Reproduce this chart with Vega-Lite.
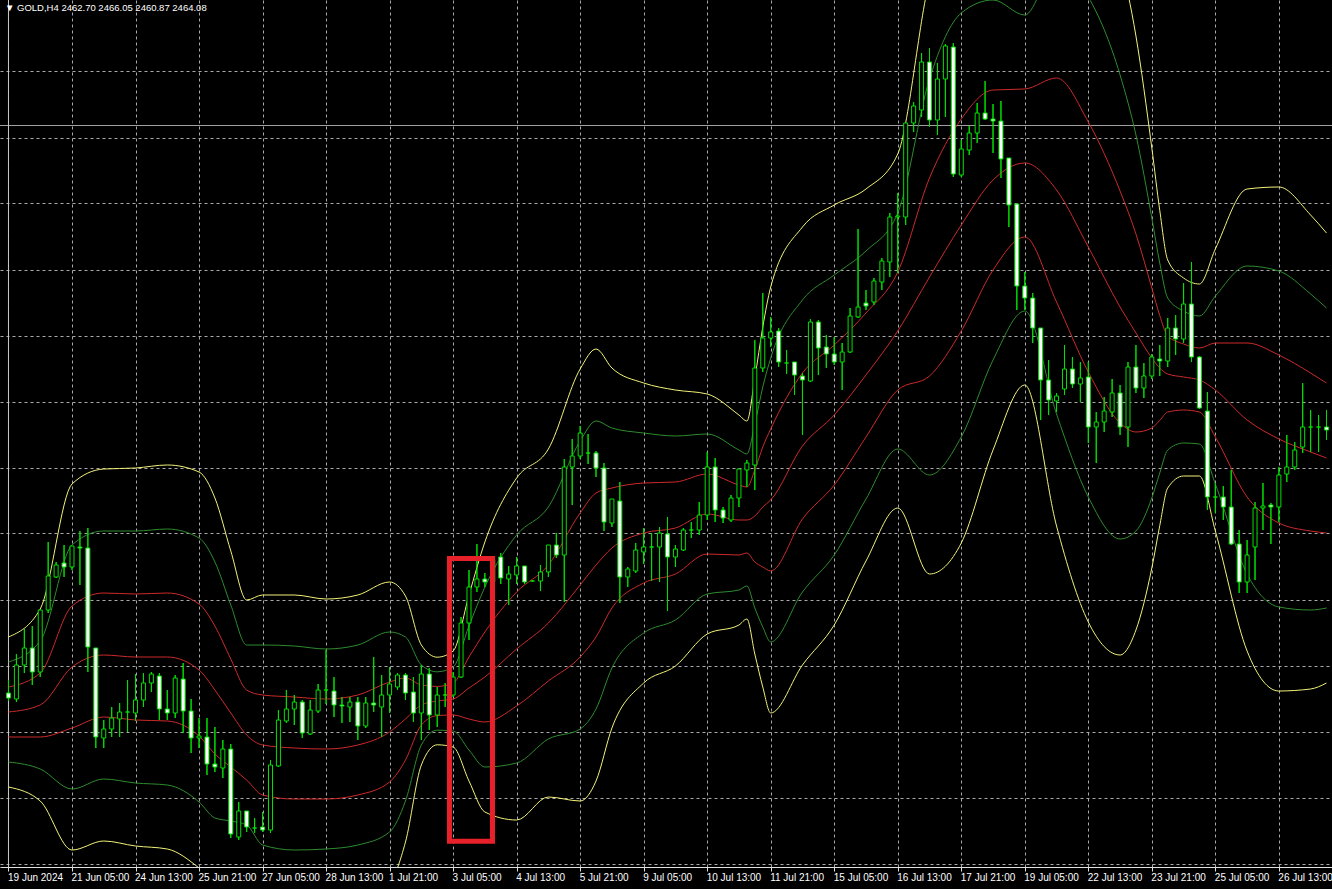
{
 "$schema": "https://vega.github.io/schema/vega-lite/v6.json",
 "width": 1332,
 "height": 867,
 "autosize": "none",
 "padding": {"left": 0, "top": 0, "right": 0, "bottom": 22},
 "background": "#000000",
 "config": {"view": {"stroke": null}},
 "title": {"text": "▼ GOLD,H4  2462.70 2466.05 2460.87 2464.08", "anchor": "start", "frame": "group", "orient": "top", "offset": -13, "dx": 5, "color": "#ffffff", "font": "Liberation Sans", "fontSize": 9.5, "fontWeight": "normal"},
 "datasets": {
  "candles": [
{"i":0,"o":2326.75,"h":2330,"l":2324.75,"c":2325.5},
{"i":1,"o":2325.25,"h":2336.5,"l":2324.5,"c":2333.75},
{"i":2,"o":2333.75,"h":2342.75,"l":2331.75,"c":2338},
{"i":3,"o":2338,"h":2343.5,"l":2328.75,"c":2332},
{"i":4,"o":2332,"h":2347.5,"l":2330.75,"c":2347.5},
{"i":5,"o":2347.5,"h":2364.5,"l":2346.75,"c":2356},
{"i":6,"o":2355.75,"h":2359.5,"l":2355.5,"c":2358.75},
{"i":7,"o":2359.25,"h":2363.75,"l":2355.75,"c":2358.25},
{"i":8,"o":2358.25,"h":2363.5,"l":2357.5,"c":2363.5},
{"i":9,"o":2363.25,"h":2367.25,"l":2353.75,"c":2363},
{"i":10,"o":2363,"h":2368,"l":2332,"c":2338.25},
{"i":11,"o":2338,"h":2338,"l":2313,"c":2315.75},
{"i":12,"o":2315.5,"h":2320,"l":2313,"c":2317.75},
{"i":13,"o":2317.75,"h":2323.25,"l":2315.75,"c":2320.5},
{"i":14,"o":2320.25,"h":2324.25,"l":2315.75,"c":2322},
{"i":15,"o":2322,"h":2330,"l":2317,"c":2322},
{"i":16,"o":2321.75,"h":2331.5,"l":2319.75,"c":2325},
{"i":17,"o":2325,"h":2331.75,"l":2323.25,"c":2329.25},
{"i":18,"o":2329.25,"h":2332,"l":2327,"c":2331.5},
{"i":19,"o":2331,"h":2331.75,"l":2320,"c":2322.75},
{"i":20,"o":2322.75,"h":2327.5,"l":2320,"c":2321.75},
{"i":21,"o":2321.75,"h":2331.25,"l":2320.5,"c":2330.5},
{"i":22,"o":2330.25,"h":2334.25,"l":2316.75,"c":2322.25},
{"i":23,"o":2322.25,"h":2325.25,"l":2311.75,"c":2315.5},
{"i":24,"o":2315.5,"h":2320.5,"l":2313,"c":2316},
{"i":25,"o":2315.75,"h":2320.5,"l":2306.25,"c":2309},
{"i":26,"o":2309,"h":2318.25,"l":2307,"c":2308.25},
{"i":27,"o":2308,"h":2315,"l":2305.5,"c":2312.75},
{"i":28,"o":2312.75,"h":2314,"l":2290.5,"c":2291.5},
{"i":29,"o":2290.75,"h":2299.5,"l":2290,"c":2297.25},
{"i":30,"o":2297.25,"h":2297.25,"l":2292,"c":2293.25},
{"i":31,"o":2293,"h":2295.5,"l":2291.75,"c":2293},
{"i":32,"o":2293.25,"h":2297,"l":2292,"c":2292.5},
{"i":33,"o":2292.5,"h":2310,"l":2291.75,"c":2308.75},
{"i":34,"o":2308.5,"h":2322.5,"l":2308.25,"c":2320},
{"i":35,"o":2319.75,"h":2327.5,"l":2319.25,"c":2322.75},
{"i":36,"o":2322.75,"h":2326.25,"l":2318.75,"c":2324.5},
{"i":37,"o":2324.5,"h":2325,"l":2315.5,"c":2316.75},
{"i":38,"o":2316.5,"h":2325,"l":2316.25,"c":2322.5},
{"i":39,"o":2322.25,"h":2329,"l":2321.75,"c":2327.5},
{"i":40,"o":2327.5,"h":2337.5,"l":2324,"c":2327.5},
{"i":41,"o":2327.25,"h":2330.75,"l":2320.75,"c":2323.75},
{"i":42,"o":2323.75,"h":2325.75,"l":2319.25,"c":2323.5},
{"i":43,"o":2323.25,"h":2325.75,"l":2319.5,"c":2324.5},
{"i":44,"o":2324.5,"h":2325.75,"l":2315,"c":2318.5},
{"i":45,"o":2318.5,"h":2325.75,"l":2318,"c":2324.25},
{"i":46,"o":2324.25,"h":2335.75,"l":2322,"c":2323.75},
{"i":47,"o":2323.25,"h":2331.25,"l":2315.75,"c":2326.25},
{"i":48,"o":2326.25,"h":2333.25,"l":2321.75,"c":2329},
{"i":49,"o":2328.25,"h":2331.75,"l":2327.5,"c":2331.25},
{"i":50,"o":2331.25,"h":2331.75,"l":2325,"c":2326.75},
{"i":51,"o":2327,"h":2330.75,"l":2319.5,"c":2321.75},
{"i":52,"o":2321.75,"h":2333.75,"l":2315,"c":2331.5},
{"i":53,"o":2331.5,"h":2333,"l":2317.5,"c":2321.25},
{"i":54,"o":2321.25,"h":2328.25,"l":2318.25,"c":2326.25},
{"i":55,"o":2326.25,"h":2329.25,"l":2323.25,"c":2326.25},
{"i":56,"o":2326.25,"h":2332,"l":2325.75,"c":2330.75},
{"i":57,"o":2330.75,"h":2345.75,"l":2330.5,"c":2344.25},
{"i":58,"o":2344.25,"h":2357.5,"l":2340,"c":2353.25},
{"i":59,"o":2353.25,"h":2364,"l":2352,"c":2355.25},
{"i":60,"o":2355.25,"h":2356.75,"l":2353.25,"c":2354.5},
{"i":61,"o":2354.5,"h":2361,"l":2353.75,"c":2360},
{"i":62,"o":2360.75,"h":2361.75,"l":2354,"c":2355.5},
{"i":63,"o":2355.25,"h":2358.5,"l":2348.75,"c":2356.5},
{"i":64,"o":2356.25,"h":2360.75,"l":2354,"c":2358.5},
{"i":65,"o":2358.5,"h":2358.5,"l":2354,"c":2354.5},
{"i":66,"o":2354.75,"h":2355,"l":2354.5,"c":2354.75},
{"i":67,"o":2354.75,"h":2358.75,"l":2352.25,"c":2357},
{"i":68,"o":2357,"h":2363.75,"l":2355.75,"c":2363.75},
{"i":69,"o":2363.75,"h":2366.75,"l":2360.5,"c":2361.25},
{"i":70,"o":2361.25,"h":2385.25,"l":2349.5,"c":2383.25},
{"i":71,"o":2383.25,"h":2390.25,"l":2373.75,"c":2386},
{"i":72,"o":2386,"h":2393.5,"l":2385.25,"c":2391.75},
{"i":73,"o":2386.75,"h":2391.5,"l":2384,"c":2386.75},
{"i":74,"o":2386.75,"h":2387.25,"l":2380.75,"c":2383},
{"i":75,"o":2383,"h":2384.25,"l":2367.25,"c":2369.5},
{"i":76,"o":2369.25,"h":2375.25,"l":2368.25,"c":2375.25},
{"i":77,"o":2374.75,"h":2379.5,"l":2349.25,"c":2355.75},
{"i":78,"o":2355.75,"h":2358.25,"l":2353.25,"c":2357.75},
{"i":79,"o":2357.25,"h":2364.25,"l":2356.75,"c":2362.5},
{"i":80,"o":2362,"h":2368,"l":2359,"c":2363.25},
{"i":81,"o":2363.25,"h":2366.75,"l":2354.75,"c":2363.25},
{"i":82,"o":2363.25,"h":2368.25,"l":2354.5,"c":2366.75},
{"i":83,"o":2366.5,"h":2370.75,"l":2347.25,"c":2360.75},
{"i":84,"o":2360.75,"h":2363.75,"l":2358.25,"c":2362.75},
{"i":85,"o":2362.5,"h":2368,"l":2362.25,"c":2367.5},
{"i":86,"o":2367.5,"h":2369.5,"l":2365.5,"c":2367.5},
{"i":87,"o":2367.5,"h":2374.5,"l":2366.25,"c":2371.25},
{"i":88,"o":2371.25,"h":2387,"l":2370,"c":2383.25},
{"i":89,"o":2383.25,"h":2385.5,"l":2369.5,"c":2372.5},
{"i":90,"o":2372.5,"h":2373.25,"l":2369.25,"c":2370.5},
{"i":91,"o":2370,"h":2376.25,"l":2369.5,"c":2375.5},
{"i":92,"o":2375.5,"h":2382.75,"l":2373.25,"c":2382.75},
{"i":93,"o":2382.5,"h":2385,"l":2378.25,"c":2384.25},
{"i":94,"o":2383.75,"h":2415,"l":2377.5,"c":2408},
{"i":95,"o":2408,"h":2426.75,"l":2407,"c":2415.5},
{"i":96,"o":2415.5,"h":2420.75,"l":2413.25,"c":2417},
{"i":97,"o":2417.25,"h":2418,"l":2408.25,"c":2409.5},
{"i":98,"o":2409.25,"h":2412.5,"l":2406.5,"c":2409.25},
{"i":99,"o":2409.5,"h":2409.5,"l":2401.25,"c":2406.25},
{"i":100,"o":2406,"h":2406.75,"l":2391.25,"c":2405},
{"i":101,"o":2404.75,"h":2420.25,"l":2404.5,"c":2419.5},
{"i":102,"o":2419.5,"h":2420,"l":2406.25,"c":2413},
{"i":103,"o":2413.25,"h":2416.25,"l":2408,"c":2411.5},
{"i":104,"o":2411.5,"h":2415.75,"l":2408.75,"c":2409.5},
{"i":105,"o":2409.5,"h":2414.25,"l":2402.5,"c":2412},
{"i":106,"o":2412,"h":2423,"l":2411.75,"c":2421},
{"i":107,"o":2420.75,"h":2442.75,"l":2420.5,"c":2423.25},
{"i":108,"o":2424.25,"h":2427.5,"l":2422.5,"c":2423.5},
{"i":109,"o":2424.5,"h":2430.5,"l":2423.75,"c":2429.75},
{"i":110,"o":2429.5,"h":2435.5,"l":2427.5,"c":2434.75},
{"i":111,"o":2434.5,"h":2446.75,"l":2430.75,"c":2445.75},
{"i":112,"o":2445.75,"h":2451.75,"l":2431.75,"c":2446},
{"i":113,"o":2445.75,"h":2469.25,"l":2443.75,"c":2469.25},
{"i":114,"o":2469.25,"h":2474.5,"l":2467,"c":2473.5},
{"i":115,"o":2472.5,"h":2486.75,"l":2470.75,"c":2484.5},
{"i":116,"o":2484.5,"h":2488,"l":2468.25,"c":2470},
{"i":117,"o":2470,"h":2484.25,"l":2466.25,"c":2480.25},
{"i":118,"o":2480.25,"h":2489,"l":2470.75,"c":2488.5},
{"i":119,"o":2488.25,"h":2489.25,"l":2455.75,"c":2456.5},
{"i":120,"o":2456.25,"h":2465,"l":2455.75,"c":2462.75},
{"i":121,"o":2462.5,"h":2468.5,"l":2461.25,"c":2466.75},
{"i":122,"o":2466.75,"h":2474.25,"l":2464.25,"c":2471.75},
{"i":123,"o":2471.75,"h":2479.75,"l":2470,"c":2470.25},
{"i":124,"o":2470.25,"h":2474,"l":2461.75,"c":2469.75},
{"i":125,"o":2469.75,"h":2474.75,"l":2455.5,"c":2460.25},
{"i":126,"o":2460.5,"h":2460.5,"l":2443.25,"c":2448.75},
{"i":127,"o":2449,"h":2449,"l":2422.5,"c":2428.5},
{"i":128,"o":2428.5,"h":2432,"l":2422.5,"c":2425.5},
{"i":129,"o":2425.5,"h":2426.75,"l":2414.25,"c":2418},
{"i":130,"o":2418,"h":2418,"l":2395,"c":2405},
{"i":131,"o":2405,"h":2410,"l":2396.25,"c":2400},
{"i":132,"o":2399.75,"h":2401.75,"l":2397,"c":2401},
{"i":133,"o":2402.75,"h":2413.75,"l":2401.25,"c":2407.75},
{"i":134,"o":2407.75,"h":2410.75,"l":2403,"c":2404},
{"i":135,"o":2404,"h":2409.5,"l":2399.5,"c":2405.5},
{"i":136,"o":2405.75,"h":2409.5,"l":2389.25,"c":2393.25},
{"i":137,"o":2393.25,"h":2397,"l":2384.25,"c":2394.5},
{"i":138,"o":2394.5,"h":2400.75,"l":2392,"c":2397.25},
{"i":139,"o":2397,"h":2405.25,"l":2395.75,"c":2401.75},
{"i":140,"o":2401.75,"h":2403.75,"l":2391.25,"c":2393.25},
{"i":141,"o":2393.25,"h":2409.5,"l":2388.25,"c":2408.25},
{"i":142,"o":2408.25,"h":2413.75,"l":2401.75,"c":2403},
{"i":143,"o":2403,"h":2409.25,"l":2400.5,"c":2406},
{"i":144,"o":2406,"h":2411.5,"l":2405.25,"c":2410.75},
{"i":145,"o":2410.25,"h":2413.75,"l":2406,"c":2409.75},
{"i":146,"o":2409.75,"h":2420.5,"l":2408.25,"c":2418},
{"i":147,"o":2418,"h":2421.25,"l":2411.25,"c":2415.25},
{"i":148,"o":2415.25,"h":2429.25,"l":2414.25,"c":2424},
{"i":149,"o":2424,"h":2434.5,"l":2409.5,"c":2410.75},
{"i":150,"o":2410.75,"h":2411,"l":2397.75,"c":2398},
{"i":151,"o":2397.25,"h":2402,"l":2372.5,"c":2375.75},
{"i":152,"o":2375.75,"h":2379.25,"l":2371.75,"c":2375.75},
{"i":153,"o":2375.75,"h":2378.5,"l":2370,"c":2373.25},
{"i":154,"o":2373.25,"h":2382.5,"l":2363.75,"c":2364},
{"i":155,"o":2364,"h":2367.5,"l":2351.75,"c":2354.5},
{"i":156,"o":2354.5,"h":2365,"l":2351.75,"c":2361.25},
{"i":157,"o":2363.25,"h":2374.5,"l":2355,"c":2373},
{"i":158,"o":2373,"h":2379.25,"l":2367.5,"c":2373.5},
{"i":159,"o":2373.75,"h":2374.25,"l":2364,"c":2373.25},
{"i":160,"o":2373.25,"h":2383.25,"l":2369.5,"c":2381.25},
{"i":161,"o":2381.5,"h":2391.25,"l":2379.5,"c":2383.25},
{"i":162,"o":2383.25,"h":2389.5,"l":2382.5,"c":2387.5},
{"i":163,"o":2388.25,"h":2404.25,"l":2386.75,"c":2393.25},
{"i":164,"o":2393.25,"h":2397.5,"l":2387,"c":2393.25},
{"i":165,"o":2393.25,"h":2396.25,"l":2387,"c":2393.25},
{"i":166,"o":2393.25,"h":2397.5,"l":2390,"c":2392.5}
  ],
  "bands": [
{"i":0,"yu":2340.75,"gu":2334.5,"ru":2328.25,"m":2322,"rl":2315.75,"gl":2309.5,"yl":2303.25},
{"i":4,"yu":2347.75,"gu":2339.75,"ru":2331.75,"m":2323.75,"rl":2315.75,"gl":2307.75,"yl":2299.75},
{"i":8,"yu":2379,"gu":2363.75,"ru":2348.5,"m":2333.25,"rl":2318,"gl":2302.75,"yl":2287.5},
{"i":12,"yu":2382.75,"gu":2367.25,"ru":2351.75,"m":2336.25,"rl":2320.75,"gl":2305.25,"yl":2289.75},
{"i":16,"yu":2383,"gu":2367.25,"ru":2351.5,"m":2335.75,"rl":2320,"gl":2304.25,"yl":2288.5},
{"i":20,"yu":2383.75,"gu":2367.75,"ru":2351.75,"m":2335.75,"rl":2319.75,"gl":2303.75,"yl":2287.75},
{"i":24,"yu":2382,"gu":2365.5,"ru":2349,"m":2332.5,"rl":2316,"gl":2299.5,"yl":2283},
{"i":26,"yu":2375.5,"gu":2359.5,"ru":2343.5,"m":2327.5,"rl":2311.5,"gl":2295.5,"yl":2279.5},
{"i":28,"yu":2362.25,"gu":2348.75,"ru":2335.25,"m":2321.75,"rl":2308.25,"gl":2294.75,"yl":2281.25},
{"i":30,"yu":2350,"gu":2338.75,"ru":2327.5,"m":2316.25,"rl":2305,"gl":2293.75,"yl":2282.5},
{"i":32,"yu":2351.25,"gu":2338.75,"ru":2326.25,"m":2313.75,"rl":2301.25,"gl":2288.75,"yl":2276.25},
{"i":36,"yu":2351.25,"gu":2338.5,"ru":2325.75,"m":2313,"rl":2300.25,"gl":2287.5,"yl":2274.75},
{"i":40,"yu":2350.25,"gu":2337.75,"ru":2325.25,"m":2312.75,"rl":2300.25,"gl":2287.75,"yl":2275.25},
{"i":44,"yu":2351.25,"gu":2338.75,"ru":2326.25,"m":2313.75,"rl":2301.25,"gl":2288.75,"yl":2276.25},
{"i":48,"yu":2354.5,"gu":2342,"ru":2329.5,"m":2317,"rl":2304.5,"gl":2292,"yl":2279.5},
{"i":50,"yu":2351,"gu":2340.75,"ru":2330.5,"m":2320.25,"rl":2310,"gl":2299.75,"yl":2289.5},
{"i":52,"yu":2338.75,"gu":2333.75,"ru":2328.75,"m":2323.75,"rl":2318.75,"gl":2313.75,"yl":2308.75},
{"i":54,"yu":2335.7,"gu":2332.05,"ru":2328.4,"m":2324.75,"rl":2321.1,"gl":2317.45,"yl":2313.8},
{"i":56,"yu":2337.25,"gu":2333.25,"ru":2329.25,"m":2325.25,"rl":2321.25,"gl":2317.25,"yl":2313.25},
{"i":58,"yu":2351.25,"gu":2343.5,"ru":2335.75,"m":2328,"rl":2320.25,"gl":2312.5,"yl":2304.75},
{"i":60,"yu":2364.5,"gu":2353.25,"ru":2342,"m":2330.75,"rl":2319.5,"gl":2308.25,"yl":2297},
{"i":64,"yu":2380.5,"gu":2366.25,"ru":2352,"m":2337.75,"rl":2323.5,"gl":2309.25,"yl":2295},
{"i":68,"yu":2387.75,"gu":2373.25,"ru":2358.75,"m":2344.25,"rl":2329.75,"gl":2315.25,"yl":2300.75},
{"i":72,"yu":2407.75,"gu":2389.75,"ru":2371.75,"m":2353.75,"rl":2335.75,"gl":2317.75,"yl":2299.75},
{"i":74,"yu":2412.75,"gu":2394.75,"ru":2376.75,"m":2358.75,"rl":2340.75,"gl":2322.75,"yl":2304.75},
{"i":76,"yu":2408,"gu":2393,"ru":2378,"m":2363,"rl":2348,"gl":2333,"yl":2318},
{"i":80,"yu":2404.25,"gu":2391.75,"ru":2379.25,"m":2366.75,"rl":2354.25,"gl":2341.75,"yl":2329.25},
{"i":84,"yu":2402.5,"gu":2391,"ru":2379.5,"m":2368,"rl":2356.5,"gl":2345,"yl":2333.5},
{"i":88,"yu":2401.5,"gu":2391.5,"ru":2381.5,"m":2371.5,"rl":2361.5,"gl":2351.5,"yl":2341.5},
{"i":92,"yu":2396.25,"gu":2387.5,"ru":2378.75,"m":2370,"rl":2361.25,"gl":2352.5,"yl":2343.75},
{"i":93,"yu":2394.75,"gu":2386.5,"ru":2378.25,"m":2370,"rl":2361.75,"gl":2353.5,"yl":2345.25},
{"i":94,"yu":2405.5,"gu":2394,"ru":2382.5,"m":2371,"rl":2359.5,"gl":2348,"yl":2336.5},
{"i":95,"yu":2418.25,"gu":2403.25,"ru":2388.25,"m":2373.25,"rl":2358.25,"gl":2343.25,"yl":2328.25},
{"i":96,"yu":2428.25,"gu":2410.5,"ru":2392.75,"m":2375,"rl":2357.25,"gl":2339.5,"yl":2321.75},
{"i":100,"yu":2443.25,"gu":2425,"ru":2406.75,"m":2388.5,"rl":2370.25,"gl":2352,"yl":2333.75},
{"i":104,"yu":2448.75,"gu":2431.25,"ru":2413.75,"m":2396.25,"rl":2378.75,"gl":2361.25,"yl":2343.75},
{"i":108,"yu":2452.75,"gu":2437.25,"ru":2421.75,"m":2406.25,"rl":2390.75,"gl":2375.25,"yl":2359.75},
{"i":112,"yu":2461.5,"gu":2446.75,"ru":2432,"m":2417.25,"rl":2402.5,"gl":2387.75,"yl":2373},
{"i":116,"yu":2505,"gu":2480.25,"ru":2455.5,"m":2430.75,"rl":2406,"gl":2381.25,"yl":2356.5},
{"i":120,"yu":2523.25,"gu":2496.75,"ru":2470.25,"m":2443.75,"rl":2417.25,"gl":2390.75,"yl":2364.25},
{"i":124,"yu":2522.5,"gu":2500,"ru":2477.5,"m":2455,"rl":2432.5,"gl":2410,"yl":2387.5},
{"i":128,"yu":2514.75,"gu":2496.25,"ru":2477.75,"m":2459.25,"rl":2440.75,"gl":2422.25,"yl":2403.75},
{"i":132,"yu":2536.5,"gu":2508.5,"ru":2480.5,"m":2452.5,"rl":2424.5,"gl":2396.5,"yl":2368.5},
{"i":136,"yu":2532,"gu":2500.75,"ru":2469.5,"m":2438.25,"rl":2407,"gl":2375.75,"yl":2344.5},
{"i":140,"yu":2510.25,"gu":2481.25,"ru":2452.25,"m":2423.25,"rl":2394.25,"gl":2365.25,"yl":2336.25},
{"i":142,"yu":2491,"gu":2466.25,"ru":2441.5,"m":2416.75,"rl":2392,"gl":2367.25,"yl":2342.5},
{"i":144,"yu":2463,"gu":2445.5,"ru":2428,"m":2410.5,"rl":2393,"gl":2375.5,"yl":2358},
{"i":145,"yu":2447.4,"gu":2434.25,"ru":2421.1,"m":2408,"rl":2394.9,"gl":2381.75,"yl":2368.6},
{"i":146,"yu":2435,"gu":2425.5,"ru":2416,"m":2406.5,"rl":2397,"gl":2387.5,"yl":2378},
{"i":148,"yu":2430.5,"gu":2422.25,"ru":2414,"m":2405.75,"rl":2397.5,"gl":2389.25,"yl":2381},
{"i":150,"yu":2429,"gu":2421,"ru":2413,"m":2405,"rl":2397,"gl":2389,"yl":2381},
{"i":152,"yu":2437.75,"gu":2426,"ru":2414.25,"m":2402.5,"rl":2390.75,"gl":2379,"yl":2367.25},
{"i":156,"yu":2452.75,"gu":2433.5,"ru":2414.25,"m":2395,"rl":2375.75,"gl":2356.5,"yl":2337.25},
{"i":160,"yu":2453.25,"gu":2432.25,"ru":2411.25,"m":2390.25,"rl":2369.25,"gl":2348.25,"yl":2327.25},
{"i":164,"yu":2446.25,"gu":2426.5,"ru":2406.75,"m":2387,"rl":2367.25,"gl":2347.5,"yl":2327.75},
{"i":166,"yu":2441.75,"gu":2423,"ru":2404.25,"m":2385.5,"rl":2366.75,"gl":2348,"yl":2329.25}
  ]
 },
 "layer": [
  {
   "data": {"name": "candles"},
   "mark": {"type": "rule", "color": "#00e000", "strokeWidth": 1, "clip": true},
   "encoding": {
    "x": {"field": "i", "type": "quantitative",
     "scale": {"domain": [-0.4375, 166.0625], "nice": false, "zero": false},
     "axis": {"values": [0,4,8,12,16,20,24,28,32,36,40,44,48,52,56,60,64,68,72,76,80,84,88,92,96,100,104,108,112,116,120,124,128,132,136,140,144,148,152,156,160,164],
      "title": null, "grid": true, "gridColor": "#a8a8a8", "gridDash": [3,3], "gridWidth": 1,
      "domain": true, "domainColor": "#e0e0e0", "domainWidth": 1,
      "ticks": true, "tickColor": "#e0e0e0", "tickSize": 4,
      "tickOpacity": {"condition": {"test": "datum.value % 8 == 0", "value": 1}, "value": 0},
      "labelExpr": "datum.value % 8 == 0 ? ['19 Jun 2024','21 Jun 05:00','24 Jun 13:00','25 Jun 21:00','27 Jun 05:00','28 Jun 13:00','1 Jul 21:00','3 Jul 05:00','4 Jul 13:00','5 Jul 21:00','9 Jul 05:00','10 Jul 13:00','11 Jul 21:00','15 Jul 05:00','16 Jul 13:00','17 Jul 21:00','19 Jul 05:00','22 Jul 13:00','23 Jul 21:00','25 Jul 05:00','26 Jul 13:00'][floor(datum.value/8)] : ''",
      "labelAlign": "left", "labelBaseline": "top", "labelPadding": 1, "labelOffset": -1, "labelColor": "#ffffff",
      "labelFont": "Liberation Sans", "labelFontSize": 10, "labelOverlap": false, "labelFlush": false, "labelBound": false}},
    "y": {"field": "l", "type": "quantitative",
     "scale": {"domain": [2283.25, 2500], "nice": false, "zero": false},
     "axis": {"values": [2490.375,2482.125,2473.875,2465.625,2457.375,2449.125,2440.875,2432.625,2424.375,2416.125,2407.875,2399.625,2391.375,2383.125,2374.875,2366.625,2358.375,2350.125,2341.875,2333.625,2325.375,2317.125,2308.875,2300.625,2292.375,2284.125],
      "title": null, "grid": true, "gridColor": "#a8a8a8", "gridDash": [3,3], "gridWidth": 1,
      "labels": false, "ticks": false, "domain": false}},
    "y2": {"field": "h"}
   }
  },
  {
   "data": {"values": [{"level": 2468.625}]},
   "mark": {"type": "rule", "color": "#a0a0a0", "strokeWidth": 1},
   "encoding": {"y": {"field": "level", "type": "quantitative", "scale": {"domain": [2283.25, 2500], "nice": false, "zero": false}}}
  },
  {
   "data": {"values": [{"start": 0}]},
   "mark": {"type": "rule", "color": "#c8c8c8", "strokeWidth": 1},
   "encoding": {"x": {"field": "start", "type": "quantitative", "scale": {"domain": [-0.4375, 166.0625], "nice": false, "zero": false}}}
  },
  {
   "data": {"name": "bands"},
   "transform": [{"fold": ["yu","gu","ru","m","rl","gl","yl"], "as": ["band","price"]}],
   "mark": {"type": "line", "strokeWidth": 1, "interpolate": "monotone", "clip": true},
   "encoding": {
    "x": {"field": "i", "type": "quantitative", "scale": {"domain": [-0.4375, 166.0625], "nice": false, "zero": false}},
    "y": {"field": "price", "type": "quantitative", "scale": {"domain": [2283.25, 2500], "nice": false, "zero": false}},
    "color": {"field": "band", "type": "nominal", "legend": null,
     "scale": {"domain": ["yu","gu","ru","m","rl","gl","yl"], "range": ["#f2f27a","#2e8b2e","#cc2a2a","#cc2a2a","#cc2a2a","#2e8b2e","#f2f27a"]}}
   }
  },
  {
   "data": {"name": "candles"},
   "mark": {"type": "rule", "color": "#00e000", "strokeWidth": 1, "clip": true},
   "encoding": {
    "x": {"field": "i", "type": "quantitative", "scale": {"domain": [-0.4375, 166.0625], "nice": false, "zero": false}},
    "y": {"field": "l", "type": "quantitative", "scale": {"domain": [2283.25, 2500], "nice": false, "zero": false}},
    "y2": {"field": "h"}
   }
  },
  {
   "data": {"name": "candles"},
   "mark": {"type": "bar", "width": 4, "stroke": "#00e000", "strokeWidth": 1, "clip": true},
   "encoding": {
    "x": {"field": "i", "type": "quantitative", "scale": {"domain": [-0.4375, 166.0625], "nice": false, "zero": false}},
    "y": {"field": "o", "type": "quantitative", "scale": {"domain": [2283.25, 2500], "nice": false, "zero": false}},
    "y2": {"field": "c"},
    "fill": {"condition": {"test": "datum.c < datum.o", "value": "#ffffff"}, "value": "#000000"}
   }
  },
  {
   "data": {"values": [{"left": 55.54, "right": 60.96, "top": 2360.4, "bottom": 2289.7}]},
   "mark": {"type": "rect", "filled": false, "stroke": "#e8202a", "strokeWidth": 5},
   "encoding": {
    "x": {"field": "left", "type": "quantitative", "scale": {"domain": [-0.4375, 166.0625], "nice": false, "zero": false}},
    "x2": {"field": "right"},
    "y": {"field": "top", "type": "quantitative", "scale": {"domain": [2283.25, 2500], "nice": false, "zero": false}},
    "y2": {"field": "bottom"}
   }
  }
 ]
}
